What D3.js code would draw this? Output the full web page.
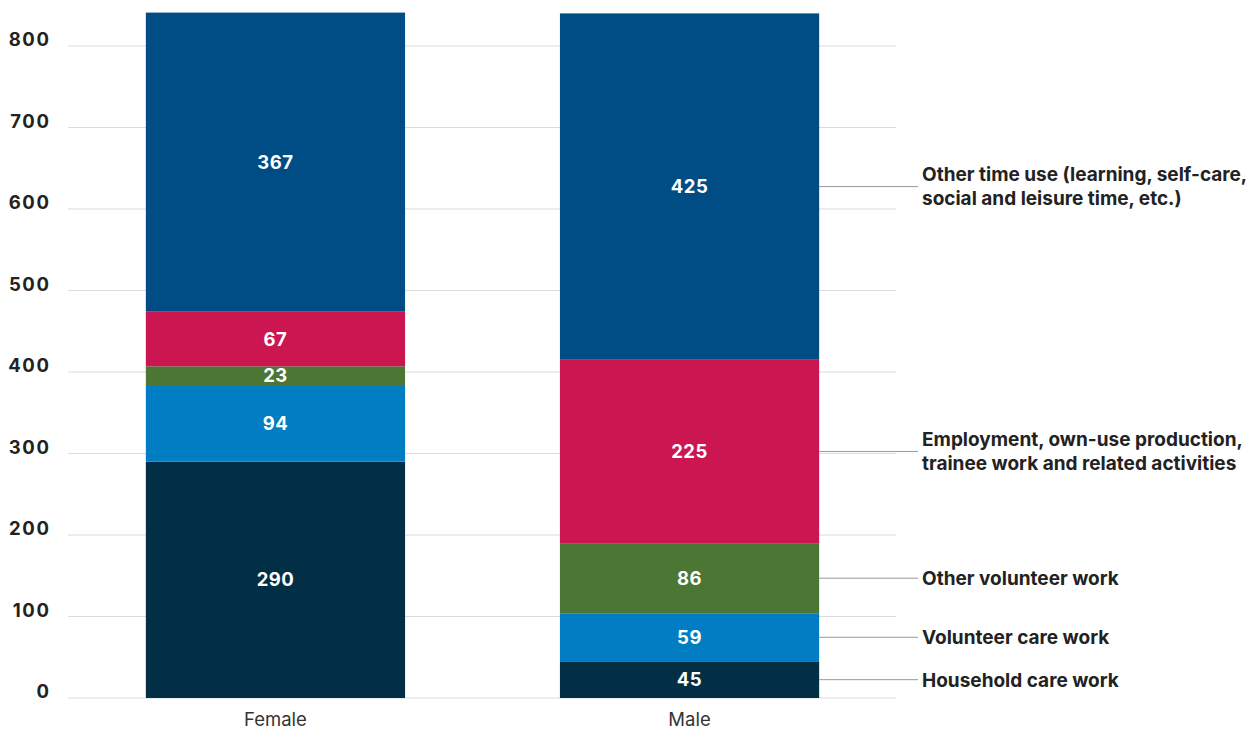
<!DOCTYPE html>
<html>
<head>
<meta charset="utf-8">
<script src="https://cdn.jsdelivr.net/npm/d3@7"></script>
<style>
  body { margin: 0; background: #fff; }
  svg { display: block; font-family: "Inter", "Lato", sans-serif; }
</style>
</head>
<body>
<svg id="chart" width="1255" height="729"></svg>
<script>
// Time use by sex, stacked (minutes per day)
const groups = ["Female", "Male"];
const seriesNames = [
  "Household care work",
  "Volunteer care work",
  "Other volunteer work",
  "Employment, own-use production, trainee work and related activities",
  "Other time use (learning, self-care, social and leisure time, etc.)"
];
const legendLines = [
  ["Household care work"],
  ["Volunteer care work"],
  ["Other volunteer work"],
  ["Employment, own-use production,", "trainee work and related activities"],
  ["Other time use (learning, self-care,", "social and leisure time, etc.)"]
];
const femaleValues = [290, 94, 23, 67, 367];
const maleValues = [45, 59, 86, 225, 425];
const colors = ["#022e46", "#007dc3", "#4b7633", "#cb1651", "#004d85"];
const yTicks = [0, 100, 200, 300, 400, 500, 600, 700, 800];

const rows = groups.map((g, i) => {
  const vals = i === 0 ? femaleValues : maleValues;
  const r = { group: g };
  seriesNames.forEach((s, j) => r[s] = vals[j]);
  return r;
});

const svg = d3.select("#chart");

const x = d3.scaleBand().domain(groups).range([68, 897])
  .paddingInner(0.374).paddingOuter(0.188);
const y = d3.scaleLinear().domain([0, 800]).range([698, 46]);

// gridlines
svg.append("g").selectAll("line").data(yTicks).join("line")
  .attr("x1", 68).attr("x2", 896)
  .attr("y1", d => y(d)).attr("y2", d => y(d))
  .attr("stroke", "#dcdcdc").attr("stroke-width", 1.2);

// y tick labels
const yAxis = svg.append("g").attr("transform", "translate(50.5,0)")
  .call(d3.axisLeft(y).tickValues(yTicks).tickSize(0).tickPadding(0));
yAxis.select(".domain").remove();
yAxis.selectAll("text")
  .attr("dy", "-0.02em")
  .attr("font-family", "Inter, Lato, sans-serif")
  .attr("font-size", 18.5).attr("font-weight", 700).attr("fill", "#222")
  .attr("letter-spacing", 1.6);

const stack = d3.stack().keys(seriesNames)(rows);

const layers = svg.append("g").selectAll("g").data(stack).join("g")
  .attr("fill", (d, i) => colors[i]);

layers.selectAll("rect").data(d => d).join("rect")
  .attr("x", d => x(d.data.group))
  .attr("width", x.bandwidth())
  .attr("y", d => y(d[1]))
  .attr("height", d => y(d[0]) - y(d[1]));

// value labels
layers.selectAll("text").data(d => d.map(p => ({ p, key: d.key }))).join("text")
  .attr("x", d => x(d.p.data.group) + x.bandwidth() / 2)
  .attr("y", d => y((d.p[0] + d.p[1]) / 2))
  .attr("dy", "0.36em")
  .attr("text-anchor", "middle")
  .attr("fill", "#fff")
  .attr("font-size", 18.5).attr("font-weight", 700)
  .attr("letter-spacing", 0.5)
  .text(d => d.p.data[d.key]);

// category labels
svg.append("g").selectAll("text").data(groups).join("text")
  .attr("x", d => x(d) + x.bandwidth() / 2)
  .attr("y", 726)
  .attr("text-anchor", "middle")
  .attr("fill", "#333").attr("font-size", 18.5)
  .text(d => d);

// leader lines and labels for the Male bar
const maleStack = stack.map(s => s[1]);
const xEnd = x("Male") + x.bandwidth();
const leg = svg.append("g");
leg.selectAll("line").data(maleStack).join("line")
  .attr("x1", xEnd).attr("x2", 918)
  .attr("y1", d => y((d[0] + d[1]) / 2)).attr("y2", d => y((d[0] + d[1]) / 2))
  .attr("stroke", "#999").attr("stroke-width", 1);

leg.selectAll("text").data(maleStack).join("text")
  .attr("x", 922)
  .attr("y", d => y((d[0] + d[1]) / 2))
  .attr("font-size", 19).attr("font-weight", 700).attr("fill", "#222")
  .each(function (d, i) {
    const lines = legendLines[i];
    const t = d3.select(this);
    lines.forEach((ln, k) => {
      t.append("tspan").attr("x", 922)
        .attr("dy", k === 0 ? (0.36 - (lines.length - 1) * 0.63) + "em" : "1.26em")
        .text(ln);
    });
  });
</script>
</body>
</html>
